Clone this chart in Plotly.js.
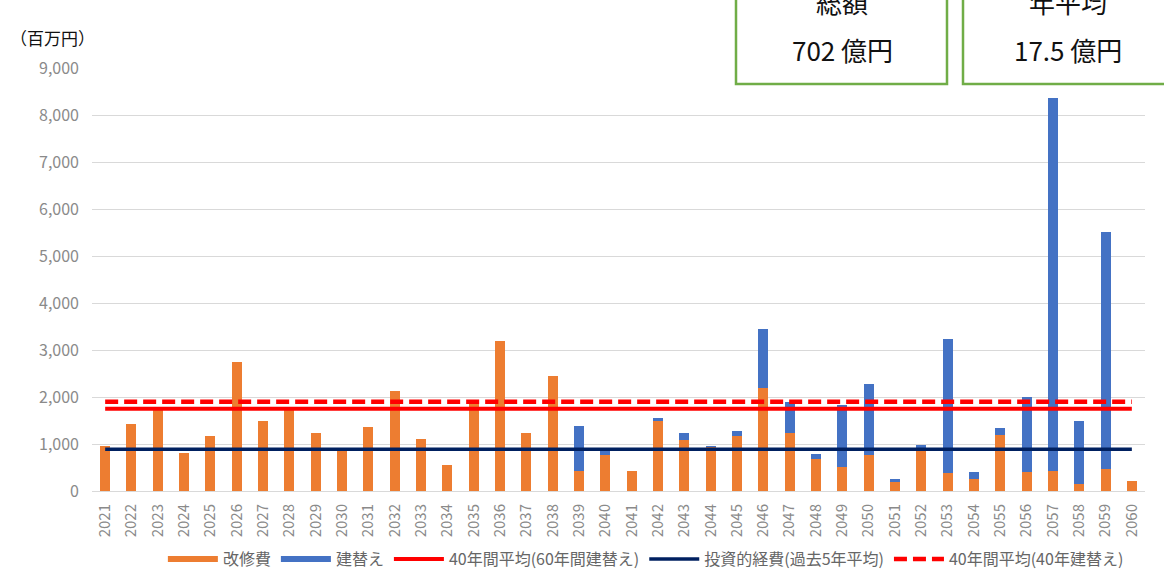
<!DOCTYPE html>
<html>
<head>
<meta charset="utf-8">
<script src="https://cdn.plot.ly/plotly-3.0.1.min.js"></script>
<style>html,body{margin:0;padding:0;background:#fff;}</style>
</head>
<body>
<div id="chart" style="width:1164px;height:572px;"></div>
<script>
var years = ["2021","2022","2023","2024","2025","2026","2027","2028","2029","2030",
             "2031","2032","2033","2034","2035","2036","2037","2038","2039","2040",
             "2041","2042","2043","2044","2045","2046","2047","2048","2049","2050",
             "2051","2052","2053","2054","2055","2056","2057","2058","2059","2060"];
// 改修費 (百万円)
var renovation = [950,1420,1760,810,1160,2750,1490,1780,1230,870,
                  1370,2120,1110,560,1870,3190,1240,2450,420,760,
                  425,1490,1090,945,1160,2190,1230,680,510,770,
                  200,870,390,260,1190,400,425,150,475,210];
// 建替え (百万円)
var rebuild = [0,0,0,0,0,0,0,0,0,0,
               0,0,0,0,0,0,0,0,960,100,
               0,55,135,20,120,1250,660,110,1320,1500,
               65,110,2840,145,160,1610,7945,1330,5045,0];
var avg60 = 1750;   // 40年間平均(60年間建替え)
var invest5 = 890;  // 投資的経費(過去5年平均)
var avg40 = 1900;   // 40年間平均(40年建替え)
var seriesNames = ["改修費","建替え","40年間平均(60年間建替え)","投資的経費(過去5年平均)","40年間平均(40年建替え)"];
var boxTitles = ["総額","年平均"];
var boxValues = ["702 億円","17.5 億円"];
var unitLabel = "（百万円）";

var FONT = "Noto Sans CJK JP, Noto Sans, sans-serif";
var cOrange = "#ed7d31", cBlue = "#4472c4", cRed = "#ff0000", cNavy = "#002060";

function flat(v){ return years.map(function(){ return v; }); }

var traces = [
  {type:"bar", x:years, y:renovation, name:seriesNames[0], marker:{color:cOrange}, showlegend:false, legendgroup:"a"},
  {type:"bar", x:years, y:rebuild, name:seriesNames[1], marker:{color:cBlue}, showlegend:false, legendgroup:"b"},
  // legend swatches for bar series
  {type:"scatter", mode:"lines", x:[null], y:[null], name:seriesNames[0], line:{color:cOrange, width:6}, legendgroup:"a"},
  {type:"scatter", mode:"lines", x:[null], y:[null], name:seriesNames[1], line:{color:cBlue, width:6}, legendgroup:"b"},
  {type:"scatter", mode:"lines", x:years, y:flat(avg60), name:seriesNames[2], line:{color:cRed, width:4}},
  {type:"scatter", mode:"lines", x:years, y:flat(invest5), name:seriesNames[3], line:{color:cNavy, width:3.5}},
  {type:"scatter", mode:"lines", x:years, y:flat(avg40), name:seriesNames[4], line:{color:cRed, width:4.5, dash:"13px,6px"}}
];

function px2x(px){ return (px-92)/1053; }
function py2y(py){ return (491-py)/423; }

var layout = {
  width:1164, height:572,
  margin:{l:92, r:19, t:68, b:81, autoexpand:false},
  paper_bgcolor:"#ffffff", plot_bgcolor:"#ffffff",
  barmode:"stack", bargap:0.62,
  font:{family:FONT, color:"#8a8a8a", size:16},
  xaxis:{type:"category", tickangle:-90, showgrid:false, zeroline:false, automargin:false,
         showline:true, linecolor:"#d9d9d9", linewidth:1,
         tickfont:{family:FONT, size:15, color:"#8a8a8a"}, ticklabelstandoff:6, ticks:""},
  yaxis:{range:[0,9000], tickvals:[0,1000,2000,3000,4000,5000,6000,7000,8000,9000],
         ticktext:["0","1,000","2,000","3,000","4,000","5,000","6,000","7,000","8,000","9,000"],
         showgrid:true, gridcolor:"#d9d9d9", gridwidth:1, zeroline:false, ticks:"", automargin:false,
         tickfont:{family:FONT, size:16, color:"#8a8a8a"}, ticklabelstandoff:12},
  showlegend:true,
  legend:{orientation:"h", x:0.526, xanchor:"center", y:py2y(559), yanchor:"middle",
          font:{family:FONT, size:16, color:"#666666"}, itemwidth:50,
          traceorder:"normal", bgcolor:"rgba(0,0,0,0)"},
  shapes:[
    {type:"rect", xref:"paper", yref:"paper", x0:px2x(736), x1:px2x(947), y0:py2y(84), y1:py2y(-10),
     line:{color:"#70ad47", width:2.5}, fillcolor:"#ffffff", layer:"above"},
    {type:"rect", xref:"paper", yref:"paper", x0:px2x(963), x1:px2x(1180), y0:py2y(84), y1:py2y(-10),
     line:{color:"#70ad47", width:2.5}, fillcolor:"#ffffff", layer:"above"}
  ],
  annotations:[
    {xref:"paper", yref:"paper", x:px2x(8), y:py2y(37), xanchor:"left", yanchor:"middle", showarrow:false,
     text:unitLabel, font:{family:FONT, size:17, color:"#111111"}},
    {xref:"paper", yref:"paper", x:px2x(842), y:py2y(1), xanchor:"center", yanchor:"middle", showarrow:false,
     text:boxTitles[0], font:{family:FONT, size:26, color:"#111111"}},
    {xref:"paper", yref:"paper", x:px2x(842), y:py2y(50), xanchor:"center", yanchor:"middle", showarrow:false,
     text:boxValues[0], font:{family:FONT, size:26, color:"#111111"}},
    {xref:"paper", yref:"paper", x:px2x(1068), y:py2y(1), xanchor:"center", yanchor:"middle", showarrow:false,
     text:boxTitles[1], font:{family:FONT, size:26, color:"#111111"}},
    {xref:"paper", yref:"paper", x:px2x(1068), y:py2y(50), xanchor:"center", yanchor:"middle", showarrow:false,
     text:boxValues[1], font:{family:FONT, size:26, color:"#111111"}}
  ]
};

Plotly.newPlot("chart", traces, layout, {displayModeBar:false, staticPlot:true});
</script>
</body>
</html>
